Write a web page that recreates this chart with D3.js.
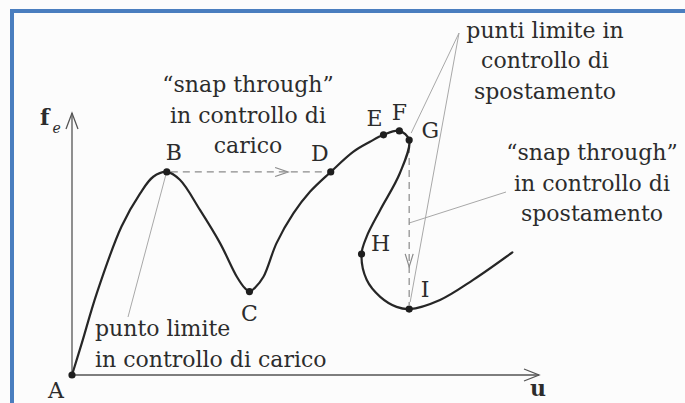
<!DOCTYPE html>
<html>
<head>
<meta charset="utf-8">
<script src="https://cdn.jsdelivr.net/npm/d3@7"></script>
<style>
  html, body { margin: 0; padding: 0; background: #ffffff; }
  svg { display: block; }
</style>
</head>
<body>
<svg id="chart" width="685" height="403"></svg>
<script>
// Equilibrium path in the (u, f_e) plane, traced in order from A to the end of the branch
const pathU = [0.00, 0.21, 0.53, 1.06, 1.46, 1.74, 2.03, 2.31, 2.74, 3.17, 3.53, 3.70, 3.80,
               3.91, 4.10, 4.38, 4.74, 5.10, 5.54, 6.02, 6.38, 6.67, 7.01, 7.22, 7.02, 6.60,
               6.31, 6.20, 6.31, 6.60, 6.95, 7.22, 7.88, 8.59, 9.43];
const pathF = [0.00, 0.73, 1.87, 3.40, 4.16, 4.54, 4.65, 4.47, 3.78, 3.02, 2.25, 1.99, 1.91,
               1.99, 2.25, 3.02, 3.70, 4.20, 4.65, 5.11, 5.34, 5.50, 5.59, 5.38, 4.62, 3.78,
               3.17, 2.77, 2.18, 1.79, 1.56, 1.51, 1.72, 2.18, 2.81];

// Marked points on the path
const pointNames = ["A", "B", "C", "D", "E", "F", "G", "H", "I"];
const pointU = [0.00, 2.03, 3.80, 5.54, 6.67, 7.01, 7.22, 6.20, 7.22];
const pointF = [0.00, 4.65, 1.91, 4.65, 5.50, 5.59, 5.38, 2.77, 1.51];

// Annotation texts
const loadSnapText = ["\u201csnap through\u201d", "in controllo di", "carico"];
const loadLimitText = ["punto limite", "in controllo di carico"];
const dispLimitText = ["punti limite in", "controllo di", "spostamento"];
const dispSnapText = ["\u201csnap through\u201d", "in controllo di", "spostamento"];

const serif = "'DejaVu Serif', 'Liberation Serif', serif";
const svg = d3.select("#chart")
  .attr("font-family", serif)
  .style("font-family", serif);
const W = 685, H = 403;

// background and frame
svg.append("rect").attr("width", W).attr("height", H).attr("fill", "#fcfcfc");
svg.append("rect")
  .attr("x", 12).attr("y", 11).attr("width", 700).attr("height", 430)
  .attr("fill", "none").attr("stroke", "#4a7ebf").attr("stroke-width", 4);

const x = d3.scaleLinear().domain([0, 10]).range([72, 539]);
const y = d3.scaleLinear().domain([0, 6]).range([375, 113]);

const byName = {};
pointNames.forEach((n, i) => { byName[n] = { u: pointU[i], f: pointF[i] }; });
const P = n => [x(byName[n].u), y(byName[n].f)];

// label placement around each marked point (pixels)
const labelOffset = {
  A: [-16, 23], B: [7, -12], C: [0, 29], D: [-11, -11], E: [-9, -9],
  F: [0, -11], G: [21, -2], H: [19, -3], I: [16, -12]
};

const fontSize = 22;
const lineGap = 30.5;
const ink = "#2c2c2c";

// thin leader lines joining the notes to the points they describe
const leader = svg.append("g").attr("stroke", "#a8a8a8").attr("stroke-width", 1).attr("fill", "none");
const [bx, by] = P("B"), [gx, gy] = P("G"), [ix, iy] = P("I");
leader.append("line").attr("x1", 128).attr("y1", 317).attr("x2", bx - 1).attr("y2", by + 3);
leader.append("line").attr("x1", 459).attr("y1", 33).attr("x2", gx + 2).attr("y2", gy - 7);
leader.append("line").attr("x1", 459).attr("y1", 33).attr("x2", ix + 1).attr("y2", iy - 7);
leader.append("line").attr("x1", 506).attr("y1", 192).attr("x2", gx).attr("y2", 223);

// dashed snap-through jumps: B -> D at constant load, G -> I at constant displacement
const dash = svg.append("g").attr("stroke", "#8a8a8a").attr("stroke-width", 1.2).attr("fill", "none");
const [dx_, dy_] = P("D");
dash.append("line").attr("x1", bx + 4).attr("y1", by).attr("x2", dx_ - 4).attr("y2", dy_)
  .attr("stroke-dasharray", "7,5");
const hTip = bx + (dx_ - bx) * 0.74;
dash.append("path").attr("d", `M${hTip - 13},${by - 4.5}L${hTip},${by}L${hTip - 13},${by + 4.5}`);
dash.append("line").attr("x1", gx).attr("y1", gy + 6).attr("x2", ix).attr("y2", iy - 4)
  .attr("stroke-dasharray", "7,5");
const vTip = gy + (iy - gy) * 0.75;
dash.append("path").attr("d", `M${gx - 4},${vTip - 13}L${gx},${vTip}L${gx + 4},${vTip - 13}`);

// axes with open arrowheads
const axes = svg.append("g").attr("stroke", "#555").attr("stroke-width", 1.3).attr("fill", "none");
const x0 = x(0), y0 = y(0), xEnd = x(10), yEnd = y(6);
axes.append("line").attr("x1", x0).attr("y1", y0).attr("x2", xEnd).attr("y2", y0);
axes.append("line").attr("x1", x0).attr("y1", y0).attr("x2", x0).attr("y2", yEnd);
axes.append("path").attr("d", `M${xEnd - 15},${y0 - 6}L${xEnd},${y0}L${xEnd - 15},${y0 + 6}`);
axes.append("path").attr("d", `M${x0 - 6},${yEnd + 16}L${x0},${yEnd}L${x0 + 6},${yEnd + 16}`);

// equilibrium curve
const line = d3.line().x(d => x(d[0])).y(d => y(d[1])).curve(d3.curveCatmullRom.alpha(0.5));
svg.append("path")
  .datum(pathU.map((u, i) => [u, pathF[i]]))
  .attr("d", line)
  .attr("fill", "none").attr("stroke", "#262626").attr("stroke-width", 2.2)
  .attr("stroke-linejoin", "round").attr("stroke-linecap", "round");

// points and their letters
svg.append("g").selectAll("circle").data(pointNames).join("circle")
  .attr("cx", n => P(n)[0]).attr("cy", n => P(n)[1]).attr("r", 3.6).attr("fill", "#1e1e1e");
svg.append("g").selectAll("text").data(pointNames).join("text")
  .attr("x", n => P(n)[0] + labelOffset[n][0])
  .attr("y", n => P(n)[1] + labelOffset[n][1])
  .attr("text-anchor", "middle").attr("font-size", fontSize)
  .attr("font-family", serif).attr("fill", ink)
  .text(n => n);

// axis names
const fe = svg.append("text").attr("x", 40).attr("y", 125).attr("font-size", fontSize)
  .attr("font-family", serif).attr("fill", ink);
fe.append("tspan").attr("font-weight", "bold").text("f");
fe.append("tspan").attr("font-style", "italic").attr("font-size", 14).attr("dx", 3).attr("dy", 8).text("e");
svg.append("text").attr("x", 538).attr("y", 396).attr("text-anchor", "middle")
  .attr("font-family", serif).attr("fill", ink)
  .attr("font-size", fontSize).attr("font-weight", "bold").text("u");

// multi-line notes
function note(lines, cx, baseline, anchor) {
  svg.append("g").selectAll("text").data(lines).join("text")
    .attr("x", cx).attr("y", (d, i) => baseline + i * lineGap)
    .attr("text-anchor", anchor).attr("font-size", fontSize)
    .attr("font-family", serif).attr("fill", ink)
    .text(d => d);
}
note(loadSnapText, 248, 92, "middle");
note(loadLimitText, 95, 336, "start");
note(dispLimitText, 545, 37.5, "middle");
note(dispSnapText, 592, 160, "middle");
</script>
</body>
</html>
